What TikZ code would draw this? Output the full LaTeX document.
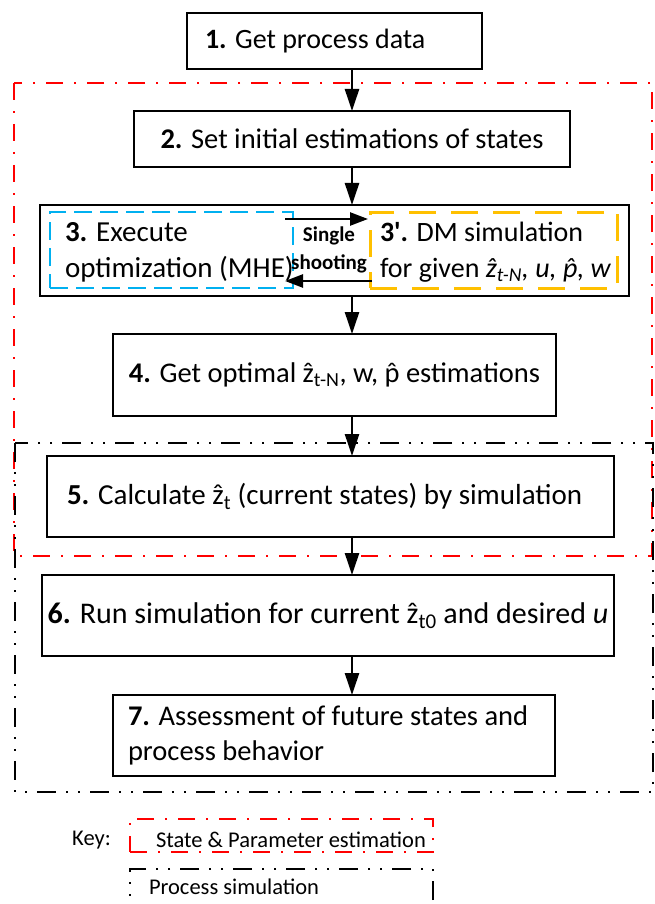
\documentclass[tikz,border=0pt]{standalone}
\usepackage{fontspec}
\setmainfont{Carlito}
\usetikzlibrary{arrows.meta}

\definecolor{estred}{HTML}{FF0000}
\definecolor{optblue}{HTML}{00B0F0}
\definecolor{simgold}{HTML}{FFC000}

% estimated quantities with a hat
\newcommand\zhat{\accent"02C6 z}
\newcommand\phat{\accent"02C6 p}

\begin{document}
\begin{tikzpicture}[x=1pt,y=-1pt,
  every node/.style={inner sep=0pt, outer sep=0pt},
  txt/.style={font=\fontsize{#1}{36}\selectfont},
  txt/.default=28,
  box/.style={draw=black, line width=2pt, txt=#1},
  box/.default=28,
  flow/.style={line width=2.5pt, -{Triangle[length=22pt,width=14pt]}},
  swap/.style={line width=2.5pt, -{Triangle[length=18pt,width=13pt]}},
  redframe/.style={draw=estred, line width=2pt, dash pattern=on 17pt off 11pt on 2pt off 11pt},
  blackframe/.style={draw=black, line width=2pt, dash pattern=on 19pt off 10pt on 2pt off 10pt on 2pt off 10pt},
  optbox/.style={draw=optblue, line width=2pt, dash pattern=on 18pt off 8pt},
  simbox/.style={draw=simgold, line width=3pt, dash pattern=on 27pt off 15pt},
  keytxt/.style={font=\fontsize{22.5}{26}\selectfont},
]
\useasboundingbox (0,0) rectangle (654,904);
\clip (0,0) rectangle (654,904);

% region frames
\draw[redframe] (14,83) rectangle (652,556);
\draw[blackframe] (15,443) rectangle (653,792);

% steps
\node[box, minimum height=56pt, inner xsep=18pt, text width=259pt, align=flush left]
  (s1) at (334.5,41) {\textbf{1.} Get process data};
\node[box=28.5, minimum width=436pt, minimum height=56pt]
  (s2) at (352,139) {\textbf{2.} Set initial estimations of states};

\node[box, line width=2.4pt, minimum width=589pt, minimum height=91pt] (s3) at (334.5,250.5) {};
\node[optbox, minimum width=243pt, minimum height=76pt] (opt) at (171.5,250) {};
\node[simbox, minimum width=247pt, minimum height=76pt] (sim) at (493.5,250) {};
\node[txt=29, anchor=west, align=flush left] (optlbl) at (65,252)
  {\textbf{3.} Execute\\optimization (MHE)};
\node[txt, anchor=west, align=flush left] (simlbl) at (380,252)
  {\textbf{3\textquotesingle.} DM simulation\\for given \textit{\zhat\textsubscript{t-N}, u, \phat, w}};
\node[font=\fontsize{21}{28}\selectfont\bfseries, align=center] (shoot) at (329,250)
  {Single\\shooting};

\node[box=28.5, minimum width=443pt, minimum height=82pt]
  (s4) at (334.5,375) {\textbf{4.} Get optimal \zhat\textsubscript{t-N}, w, \phat{} estimations};
\node[box=29, minimum height=81pt, inner xsep=20pt, text width=527pt, align=flush left]
  (s5) at (330.5,496.5) {\textbf{5.} Calculate \zhat\textsubscript{t} (current states) by simulation};
\node[box=30, minimum width=572pt, minimum height=81pt]
  (s6) at (328,615.5) {\textbf{6.} Run simulation for current \zhat\textsubscript{t0} and desired \textit{u}};
\node[box, font=\fontsize{28.5}{35}\selectfont, minimum height=81pt, inner xsep=15pt, text width=412pt, align=flush left]
  (s7) at (334,735.5) {\textbf{7.} Assessment of future states and\\process behavior};

% flow
\draw[flow] (s1.south -| s2.north) -- (s2.north);
\draw[flow] (s2.south) -- (s2.south |- s3.north);
\draw[flow] (s3.south -| s2.south) -- (s4.north -| s2.south);
\draw[flow] (s4.south -| s2.south) -- (s5.north -| s2.south);
\draw[flow] (s5.south -| s2.south) -- (s6.north -| s2.south);
\draw[flow] (s6.south -| s2.south) -- (s7.north -| s2.south);
\draw[swap] ([shift={(-8,7)}]opt.north east) -- ([shift={(-2,7)}]sim.north west);
\draw[swap] ([shift={(2,-7)}]sim.south west) -- ([shift={(-8,-7)}]opt.south east);

% key
\node[keytxt] (key) at (91.5,840) {Key:};
\node[redframe, minimum width=303pt, minimum height=33pt] (keyest) at (281.5,835.5) {};
\node[keytxt, anchor=west] (keyestlbl) at (156,840) {State \& Parameter estimation};
\node[blackframe, minimum width=303pt, minimum height=46pt] (keysim) at (281.5,892) {};
\node[keytxt, anchor=west] (keysimlbl) at (149,887) {Process simulation};
\end{tikzpicture}
\end{document}
